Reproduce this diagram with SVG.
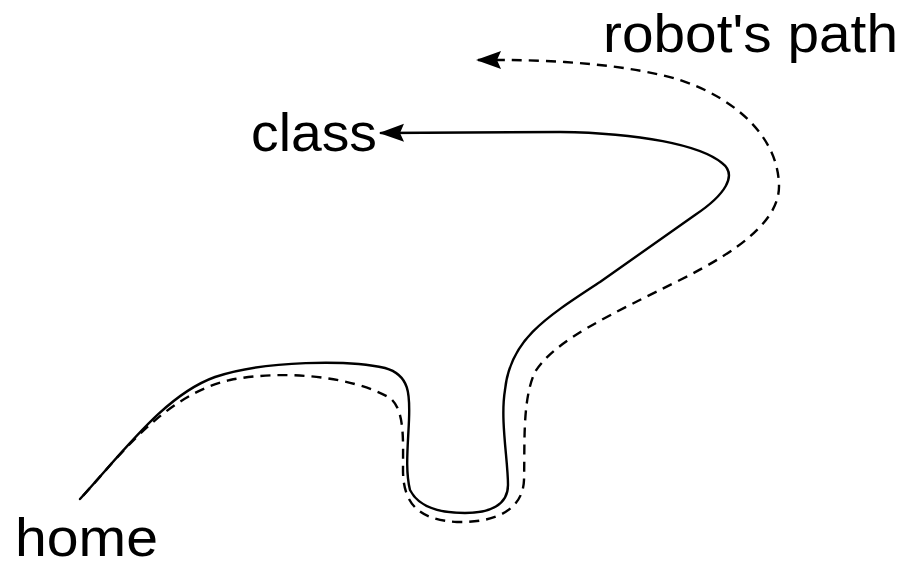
<svg xmlns="http://www.w3.org/2000/svg" width="904" height="568" viewBox="0 0 904 568">
  <defs>
    <style>
      .label { font-family: "Liberation Sans", Arial, sans-serif; font-size: 53px; fill: #000; }
      .route { fill: none; stroke: #000; stroke-width: 2.4; stroke-linecap: round; stroke-linejoin: round; }
      .actual { stroke-dasharray: 10 7; stroke-linecap: butt; }
    </style>
    <marker id="arrow" markerUnits="userSpaceOnUse" viewBox="0 0 26 20" refX="2" refY="10" markerWidth="26" markerHeight="20" orient="auto">
      <path d="M25,1 L0,10 L25,19 L21,10 z" fill="#000"/>
    </marker>
  </defs>

  <rect width="904" height="568" fill="#fff"/>

  <g id="home">
    <text class="label" x="15" y="556" textLength="143" lengthAdjust="spacingAndGlyphs">home</text>
  </g>

  <g id="class">
    <text class="label" x="251" y="151" textLength="126" lengthAdjust="spacingAndGlyphs">class</text>
  </g>

  <g id="robots-path">
    <text class="label" x="603" y="52" textLength="295" lengthAdjust="spacingAndGlyphs">robot's path</text>
  </g>

  <g id="connectors">
    <!-- planned route from home to class -->
    <path class="route planned" marker-start="url(#arrow)"
          d="M381,133 L560,132 C640,133 700,145 722,163 C738,175 725,195 695,215 L600,282 C545,318 510,340 505,390 C500,420 508,460 508,485 C508,505 490,513 465,513 C445,513 420,510 410,490 C405,470 408,445 409,420 C410,395 410,375 385,368 C350,360 265,360 215,377 C165,395 125,450 80,499"/>
    <!-- route actually driven by the robot -->
    <path class="route actual" marker-start="url(#arrow)"
          d="M478,60 L500,60 C560,60 630,65 680,80 C740,100 778,140 779,185 C780,220 740,250 680,280 C610,315 555,340 535,372 C522,400 525,445 524,480 C523,510 495,523 457,522 C420,520 403,505 403,470 C403,440 405,410 390,398 C350,375 280,370 230,380 C165,395 120,455 82,497"/>
  </g>
</svg>
